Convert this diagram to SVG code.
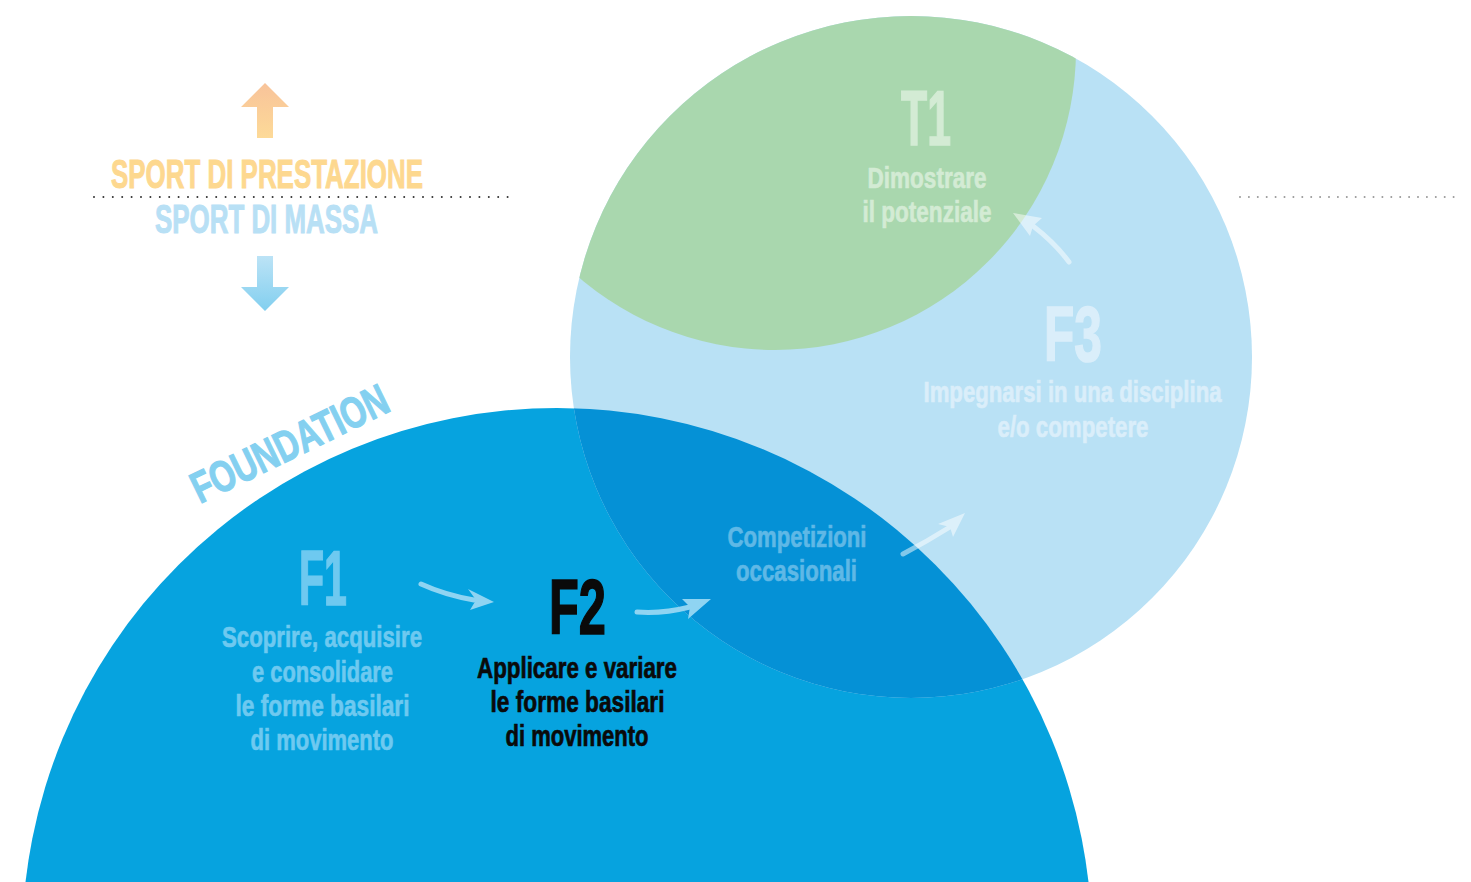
<svg xmlns="http://www.w3.org/2000/svg" width="1471" height="882" viewBox="0 0 1471 882">
<style>
text{font-family:"Liberation Sans","DejaVu Sans",Arial,sans-serif;font-weight:bold;text-anchor:start}
.big{font-size:78px;stroke-width:1.6}
.desc{font-size:30px;stroke-width:0.7}
.lbl{font-size:40px;stroke-width:1}
.dots{fill:none;stroke-width:2;stroke-linecap:round}
.sh{fill:none;stroke-width:5;stroke-linecap:round}
</style>
<defs>
<linearGradient id="gUp" x1="0" y1="0" x2="0" y2="1"><stop offset="0" stop-color="#f8c39a"/><stop offset="1" stop-color="#fdda98"/></linearGradient>
<linearGradient id="gDn" x1="0" y1="0" x2="0" y2="1"><stop offset="0" stop-color="#bce3f6"/><stop offset="1" stop-color="#82cfef"/></linearGradient>
<clipPath id="cLight"><circle cx="911" cy="357" r="341"/></clipPath>
</defs>

<g id="background">
<circle id="foundation-circle" cx="557" cy="943" r="535" fill="#06a3df"/>
<circle id="f3-circle" cx="911" cy="357" r="341" fill="#b9e1f5"/>
<circle id="t1-circle" cx="775" cy="49" r="301" fill="#a9d7ae" clip-path="url(#cLight)"/>
<circle id="overlap" cx="557" cy="943" r="535" fill="#0591d6" clip-path="url(#cLight)"/>
</g>

<g id="legend">
<polygon points="265,83 289,107 273,107 273,138 257,138 257,107 241,107" fill="url(#gUp)"/>
<text x="111" y="188" class="lbl" fill="#fdd88f" stroke="#fdd88f" textLength="312" lengthAdjust="spacingAndGlyphs">SPORT DI PRESTAZIONE</text>
<line x1="94" y1="197" x2="508" y2="197" class="dots" stroke="#333" stroke-dasharray="0 9.4"/>
<text x="155" y="233" class="lbl" fill="#b8e0f5" stroke="#b8e0f5" textLength="223" lengthAdjust="spacingAndGlyphs">SPORT DI MASSA</text>
<polygon points="257,256 273,256 273,287 289,287 265,311 241,287 257,287" fill="url(#gDn)"/>
<line x1="1240" y1="197" x2="1454" y2="197" class="dots" stroke="#999" stroke-dasharray="0 8.9"/>
</g>

<g id="foundation-label">
<text transform="translate(200,504) rotate(-26)" x="0" y="0" style="font-size:44px;stroke-width:1.2" fill="#84d0f0" stroke="#84d0f0" textLength="214" lengthAdjust="spacingAndGlyphs">FOUNDATION</text>
</g>

<g id="F1">
<text x="299" y="605" class="big" fill="#6ec9f0" stroke="#6ec9f0" textLength="48" lengthAdjust="spacingAndGlyphs">F1</text>
<text class="desc" fill="#6ec9f0" stroke="#6ec9f0">
<tspan x="222" y="647" textLength="200" lengthAdjust="spacingAndGlyphs">Scoprire, acquisire</tspan>
<tspan x="252" y="681.5" textLength="141" lengthAdjust="spacingAndGlyphs">e consolidare</tspan>
<tspan x="235.5" y="716" textLength="174" lengthAdjust="spacingAndGlyphs">le forme basilari</tspan>
<tspan x="250.5" y="750" textLength="143" lengthAdjust="spacingAndGlyphs">di movimento</tspan>
</text>
</g>

<g id="F2">
<text x="549" y="634" class="big" fill="#0a0a0a" stroke="#0a0a0a" textLength="57" lengthAdjust="spacingAndGlyphs">F2</text>
<text class="desc" fill="#0a0a0a" stroke="#0a0a0a">
<tspan x="477" y="678" textLength="200" lengthAdjust="spacingAndGlyphs">Applicare e variare</tspan>
<tspan x="490.5" y="711.5" textLength="174" lengthAdjust="spacingAndGlyphs">le forme basilari</tspan>
<tspan x="505.5" y="745.5" textLength="143" lengthAdjust="spacingAndGlyphs">di movimento</tspan>
</text>
</g>

<g id="competizioni">
<text class="desc" fill="#5fb8e6" stroke="#5fb8e6">
<tspan x="727.5" y="547" textLength="139" lengthAdjust="spacingAndGlyphs">Competizioni</tspan>
<tspan x="736" y="581" textLength="121" lengthAdjust="spacingAndGlyphs">occasionali</tspan>
</text>
</g>

<g id="T1">
<text x="901" y="145" class="big" fill="#d3ebd4" stroke="#d3ebd4" textLength="50" lengthAdjust="spacingAndGlyphs">T1</text>
<text class="desc" fill="#d3ebd4" stroke="#d3ebd4">
<tspan x="867.5" y="188" textLength="119" lengthAdjust="spacingAndGlyphs">Dimostrare</tspan>
<tspan x="862.5" y="222" textLength="129" lengthAdjust="spacingAndGlyphs">il potenziale</tspan>
</text>
</g>

<g id="F3">
<text x="1044" y="361" class="big" fill="#daeefa" stroke="#daeefa" textLength="58" lengthAdjust="spacingAndGlyphs">F3</text>
<text class="desc" fill="#daeefa" stroke="#daeefa">
<tspan x="923.5" y="402" textLength="298" lengthAdjust="spacingAndGlyphs">Impegnarsi in una disciplina</tspan>
<tspan x="997.5" y="437" textLength="151" lengthAdjust="spacingAndGlyphs">e/o competere</tspan>
</text>
</g>

<g id="connectors">
<g fill="#8fd4f2" stroke="#8fd4f2">
<path class="sh" d="M421,584 Q445,595 474,600"/>
<polygon stroke="none" points="494,602 468,589 476,600 470,610"/>
<path class="sh" d="M637,612 Q662,614 690,607"/>
<polygon stroke="none" points="711,599 682,599 690,607 688,619"/>
</g>
<g fill="#fff" stroke="#fff" opacity="0.5">
<path class="sh" d="M903,554 Q926,542 950,527"/>
<polygon stroke="none" points="965,513 938,524 950,527 953,537"/>
</g>
<g fill="#fff" stroke="#fff" opacity="0.5">
<path class="sh" d="M1069,262 Q1055,243 1033,226"/>
<polygon stroke="none" points="1013,213 1042,218 1033,226 1030,236"/>
</g>
</g>
</svg>
